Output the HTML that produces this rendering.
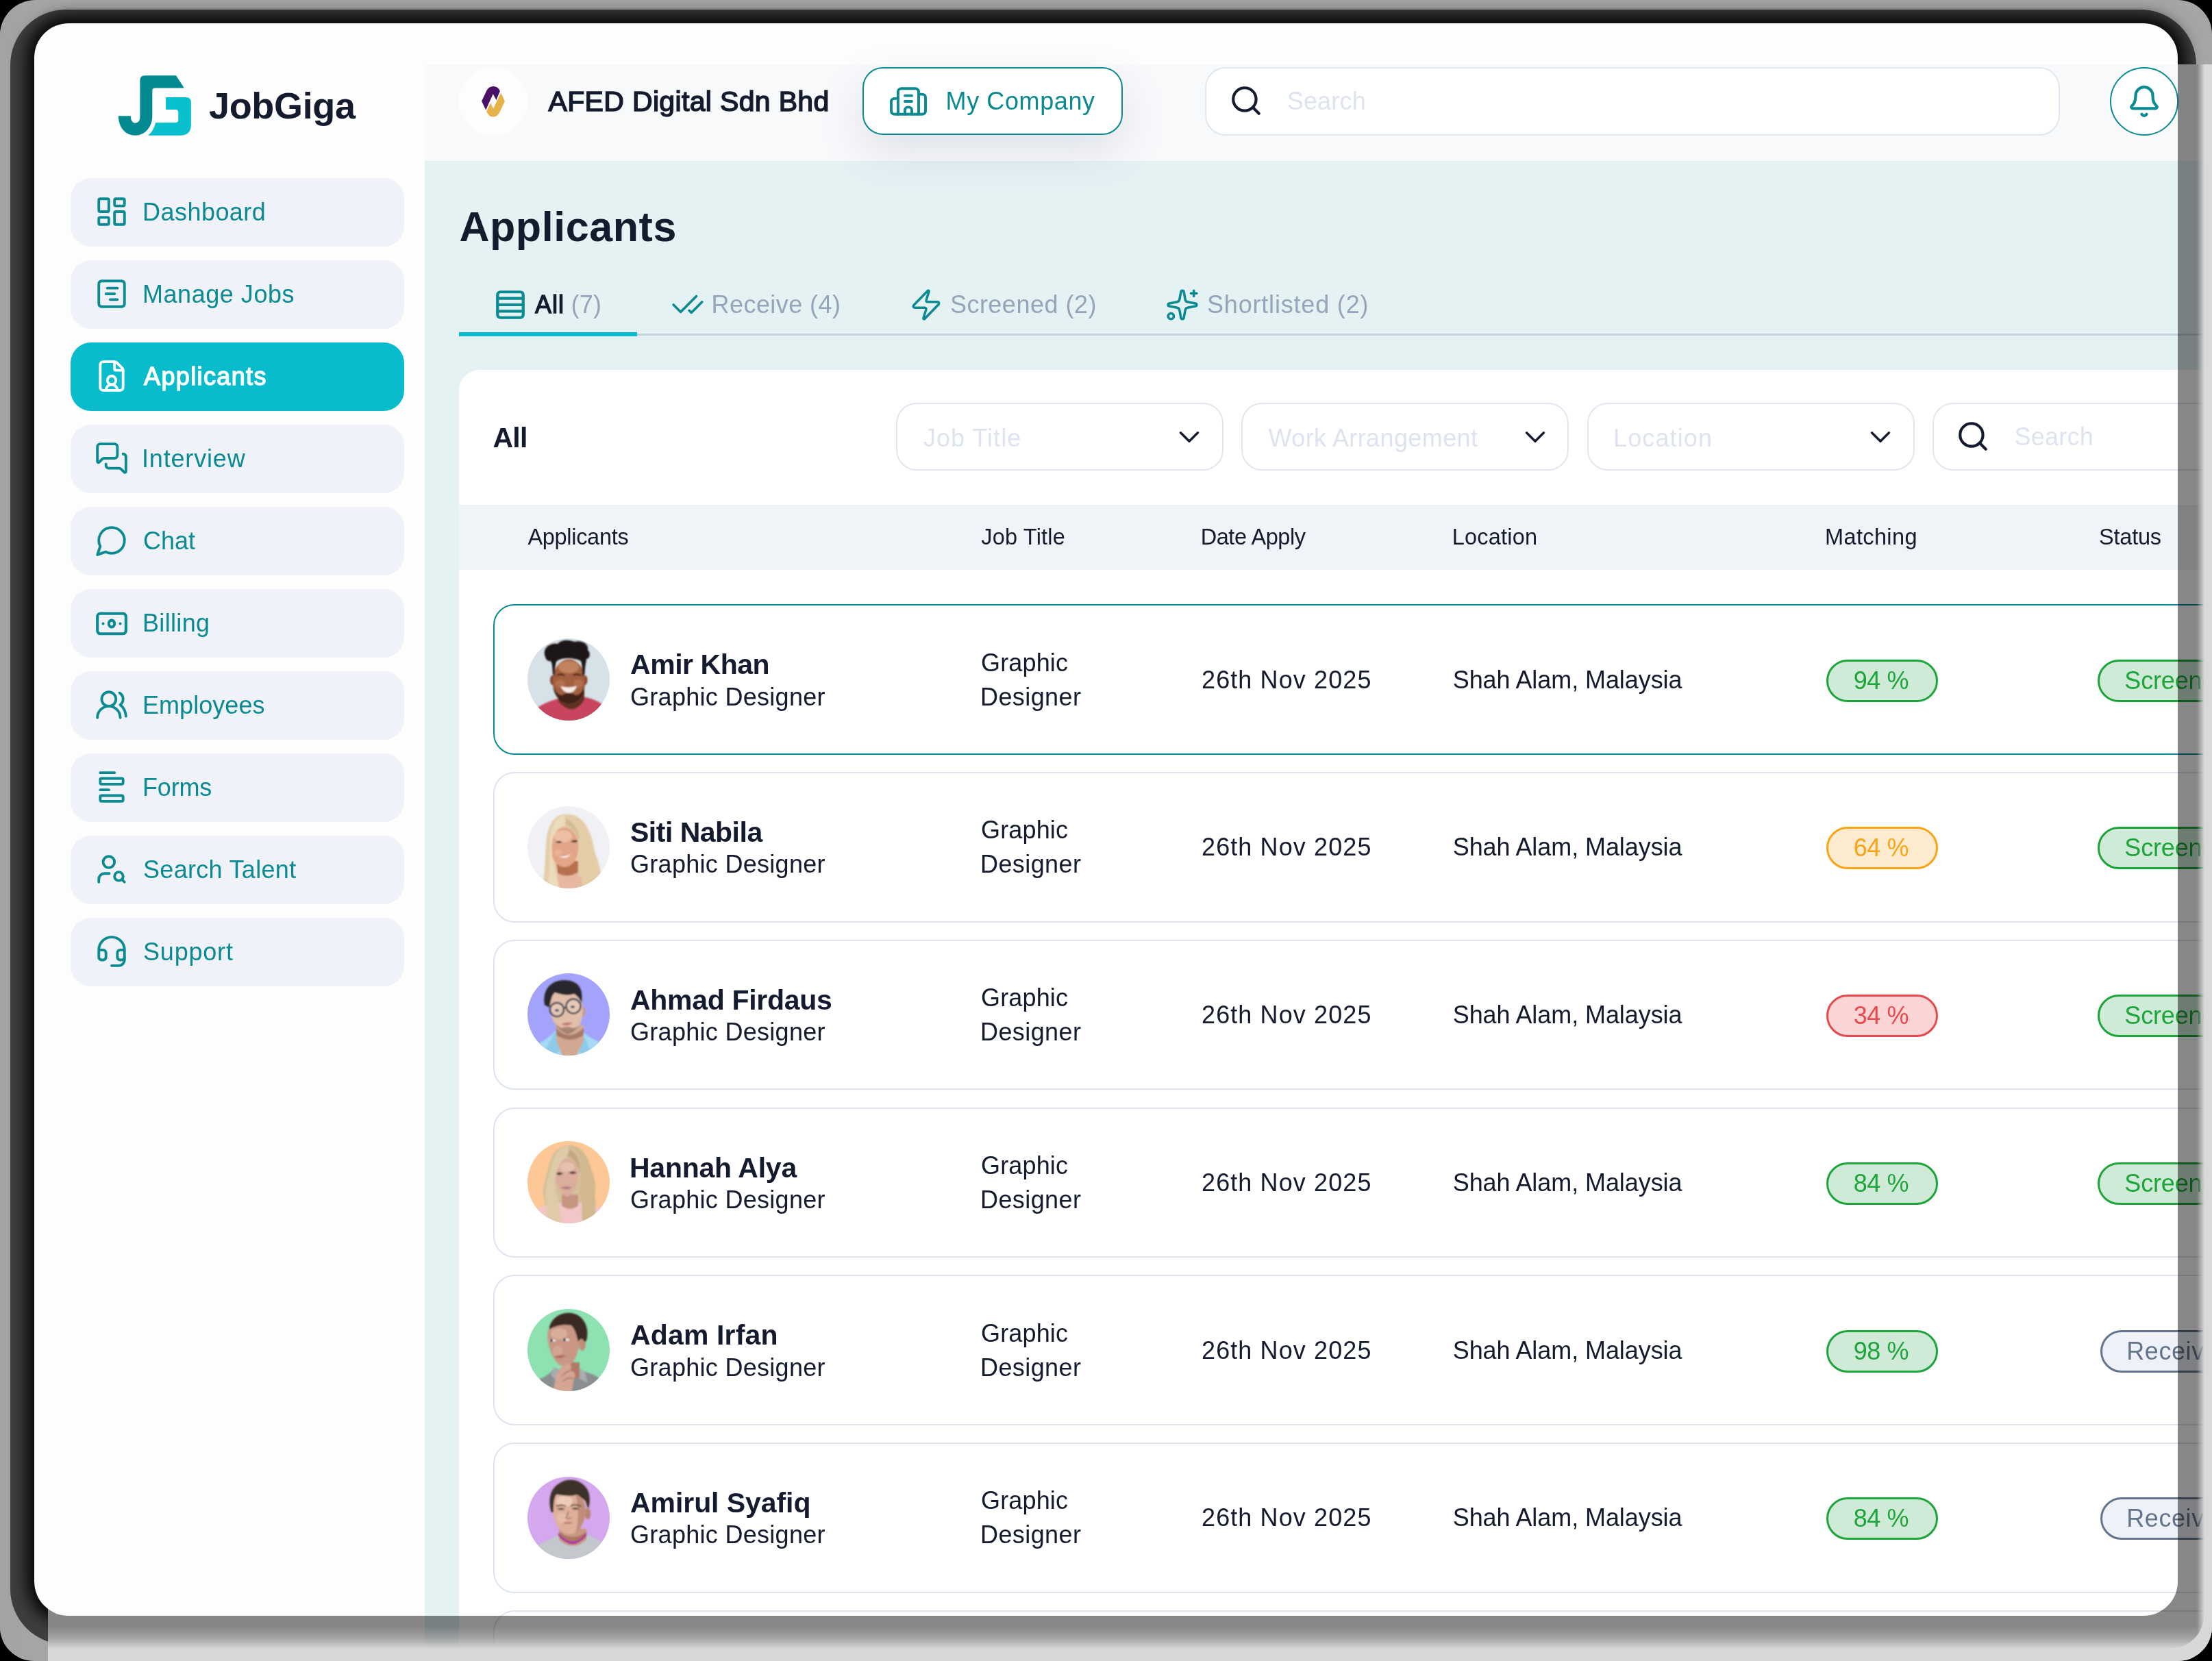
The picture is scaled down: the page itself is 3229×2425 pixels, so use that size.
<!DOCTYPE html>
<html><head><meta charset="utf-8"><title>JobGiga - Applicants</title>
<style>
html,body{margin:0;padding:0;background:#000;}
body{width:3229px;height:2425px;font-family:"Liberation Sans",sans-serif;}
#page{position:relative;width:3229px;height:2425px;overflow:hidden;background:#000;}
#outer{position:absolute;left:0;top:0;width:3229px;height:2425px;border-radius:52px 50px 50px 50px;background:#a5a5a5;overflow:hidden;}
#outer i{position:absolute;display:block;}
#shadow{position:absolute;left:50px;top:34px;width:3129px;height:2325px;border-radius:50px;background:#000;
 box-shadow:0 0 22px 11px rgba(0,0,0,.92), -4px 11px 0 31px #3e3e3e;}
.fade{position:absolute;}
#stage{position:absolute;left:0;top:0;width:3229px;height:2425px;clip-path:path('M100 34H3129A50 50 0 0 1 3179 84V2309A50 50 0 0 1 3129 2359H100A50 50 0 0 1 50 2309V84A50 50 0 0 1 100 34Z M70.01 94H3217.99A0.01 0.01 0 0 1 3218 94.01V2356A52 52 0 0 1 3166 2408H70.01A0.01 0.01 0 0 1 70 2407.99V94.01A0.01 0.01 0 0 1 70.01 94Z');background:#fdfdfd;}
#dim{position:absolute;left:50px;top:34px;width:3129px;height:2325px;border-radius:50px;box-shadow:0 0 0 2000px rgba(0,0,0,.47);}
#gl{position:absolute;left:0;top:0;width:3229px;height:2425px;will-change:transform;}
.t{position:absolute;white-space:nowrap;line-height:1;}
.ic{position:absolute;overflow:visible;}
.av{overflow:hidden;border-radius:50%;}
.nav{position:absolute;left:103px;width:486.5px;height:100px;border-radius:30px;}
.sel{position:absolute;top:588px;width:478px;height:99px;box-sizing:border-box;border:2.6px solid #e1e7f0;border-radius:30px;background:#fff;}
.row{position:absolute;left:720.3px;width:2700px;height:219.5px;box-sizing:border-box;border:2.6px solid #dde3f0;border-radius:31px;background:#fff;}
.bdg{position:absolute;height:62px;box-sizing:border-box;border:3px solid;border-radius:31px;}
</style></head><body><div id="page">
<svg width="0" height="0" style="position:absolute"><defs><filter id="avb" x="-20%" y="-20%" width="140%" height="140%"><feGaussianBlur stdDeviation="1.1"/></filter></defs></svg>
<div id="outer"><i style="left:0;top:0;width:30px;height:2425px;background:#a3a3a3"></i><i style="left:3190px;top:94px;width:39px;height:2400px;background:#d9d9d9"></i><i style="left:70px;top:2380px;width:3200px;height:45px;background:#d8d8d8"></i></div>
<div id="shadow"></div>
<div id="stage"><div id="gl">
<svg class="ic" style="left:0;top:0" width="300" height="210" viewBox="0 0 300 210"><path fill="#038a90" d="M211.4 110.3H257L268.9 128.6H226.3Q222.3 128.6 222.3 132.6V169.5C222.3 186 211 197.7 197.7 197.7C183 197.7 172.9 186 172.9 169.2H190.8C190.8 176 193.5 179.5 197.7 179.5C202 179.5 204.4 176 204.4 170V117.3Q204.4 110.3 211.4 110.3Z"/><path fill="#08bfcd" d="M242.1 141.9H271.4Q278.9 141.9 278.9 149.4V182Q278.9 197.7 263 197.7H216.3Q224 192 227.2 179.1H256.3Q260.3 179.1 260.3 175.1V164Q260.3 159.9 256.3 159.9H242.1Z"/></svg>
<span class="t" style="left:305.0px;top:126.9px;font-size:54px;color:#151b2e;font-weight:700;letter-spacing:-0.332px;">JobGiga</span>
<div class="nav" style="top:260px;background:#eff2f8"></div>
<svg class="ic" style="left:138.0px;top:284.4px;" width="50" height="50" viewBox="0 0 24 24" fill="none" stroke="#0b8a91" stroke-width="1.85" stroke-linecap="round" stroke-linejoin="round"><rect width="7" height="9" x="3" y="3" rx="1"/><rect width="7" height="5" x="14" y="3" rx="1"/><rect width="7" height="9" x="14" y="12" rx="1"/><rect width="7" height="5" x="3" y="16" rx="1"/></svg>
<span class="t" style="left:208.0px;top:291.9px;font-size:36px;color:#0b8a91;letter-spacing:0.463px;">Dashboard</span>
<div class="nav" style="top:380px;background:#eff2f8"></div>
<svg class="ic" style="left:138.0px;top:404.4px;" width="50" height="50" viewBox="0 0 24 24" fill="none" stroke="#0b8a91" stroke-width="1.85" stroke-linecap="round" stroke-linejoin="round"><rect width="18" height="18" x="3" y="3" rx="2"/><path d="M9 8h7"/><path d="M8 12h6"/><path d="M11 16h5"/></svg>
<span class="t" style="left:208.0px;top:411.9px;font-size:36px;color:#0b8a91;letter-spacing:0.536px;">Manage Jobs</span>
<div class="nav" style="top:500px;background:#09bccc"></div>
<svg class="ic" style="left:138.0px;top:524.4px;" width="50" height="50" viewBox="0 0 24 24" fill="none" stroke="#ffffff" stroke-width="1.85" stroke-linecap="round" stroke-linejoin="round"><path d="M6 22a2 2 0 0 1-2-2V4a2 2 0 0 1 2-2h8a2.4 2.4 0 0 1 1.704.706l3.588 3.588A2.4 2.4 0 0 1 20 8v12a2 2 0 0 1-2 2z"/><path d="M14 2v5a1 1 0 0 0 1 1h5"/><path d="M16 22a4 4 0 0 0-8 0"/><circle cx="12" cy="15" r="3"/></svg>
<span class="t" style="left:210.0px;top:531.9px;font-size:36px;color:#ffffff;-webkit-text-stroke:1.33px #ffffff;letter-spacing:1.367px;">Applicants</span>
<div class="nav" style="top:620px;background:#eff2f8"></div>
<svg class="ic" style="left:138.0px;top:644.4px;" width="50" height="50" viewBox="0 0 24 24" fill="none" stroke="#0b8a91" stroke-width="1.85" stroke-linecap="round" stroke-linejoin="round"><path d="M16 10a2 2 0 0 1-2 2H6.828a2 2 0 0 0-1.414.586l-2.202 2.202A.71.71 0 0 1 2 14.286V4a2 2 0 0 1 2-2h10a2 2 0 0 1 2 2z"/><path d="M20 9a2 2 0 0 1 2 2v10.286a.71.71 0 0 1-1.212.502l-2.202-2.202A2 2 0 0 0 17.172 19H10a2 2 0 0 1-2-2v-1"/></svg>
<span class="t" style="left:207.0px;top:651.9px;font-size:36px;color:#0b8a91;letter-spacing:0.831px;">Interview</span>
<div class="nav" style="top:740px;background:#eff2f8"></div>
<svg class="ic" style="left:138.0px;top:764.4px;" width="50" height="50" viewBox="0 0 24 24" fill="none" stroke="#0b8a91" stroke-width="1.85" stroke-linecap="round" stroke-linejoin="round"><path d="M7.9 20A9 9 0 1 0 4 16.1L2 22Z"/></svg>
<span class="t" style="left:209.0px;top:771.9px;font-size:36px;color:#0b8a91;letter-spacing:-0.014px;">Chat</span>
<div class="nav" style="top:860px;background:#eff2f8"></div>
<svg class="ic" style="left:138.0px;top:880.5px;" width="50" height="59" viewBox="0 0 24 24" preserveAspectRatio="none" fill="none" stroke="#0b8a91" stroke-width="4.15" stroke-linecap="round" stroke-linejoin="round"><rect vector-effect="non-scaling-stroke" width="20" height="12" x="2" y="6" rx="2"/><circle vector-effect="non-scaling-stroke" cx="12" cy="12" r="2"/><path vector-effect="non-scaling-stroke" d="M6 12h.01M18 12h.01"/></svg>
<span class="t" style="left:208.0px;top:891.9px;font-size:36px;color:#0b8a91;letter-spacing:0.329px;">Billing</span>
<div class="nav" style="top:980px;background:#eff2f8"></div>
<svg class="ic" style="left:138.0px;top:1004.4px;" width="50" height="50" viewBox="0 0 24 24" fill="none" stroke="#0b8a91" stroke-width="1.85" stroke-linecap="round" stroke-linejoin="round"><path d="M18 21a8 8 0 0 0-16 0"/><circle cx="10" cy="8" r="5"/><path d="M22 20c0-3.37-2-6.5-4-8a5 5 0 0 0-.45-8.3"/></svg>
<span class="t" style="left:208.0px;top:1011.9px;font-size:36px;color:#0b8a91;letter-spacing:0.052px;">Employees</span>
<div class="nav" style="top:1100px;background:#eff2f8"></div>
<svg class="ic" style="left:138.0px;top:1124.4px;" width="50" height="50" viewBox="0 0 24 24" fill="none" stroke="#0b8a91" stroke-width="1.85" stroke-linecap="round" stroke-linejoin="round"><path d="M4 14h6"/><path d="M4 2h10"/><rect x="4" y="18" width="16" height="4" rx="1"/><rect x="4" y="6" width="16" height="4" rx="1"/></svg>
<span class="t" style="left:208.0px;top:1131.9px;font-size:36px;color:#0b8a91;letter-spacing:-0.172px;">Forms</span>
<div class="nav" style="top:1220px;background:#eff2f8"></div>
<svg class="ic" style="left:138.0px;top:1244.4px;" width="50" height="50" viewBox="0 0 24 24" fill="none" stroke="#0b8a91" stroke-width="1.85" stroke-linecap="round" stroke-linejoin="round"><circle cx="10" cy="7" r="4"/><path d="M10.3 15H7a4 4 0 0 0-4 4v2"/><circle cx="17" cy="17" r="3"/><path d="m21 21-1.9-1.9"/></svg>
<span class="t" style="left:209.0px;top:1251.9px;font-size:36px;color:#0b8a91;letter-spacing:0.306px;">Search Talent</span>
<div class="nav" style="top:1340px;background:#eff2f8"></div>
<svg class="ic" style="left:138.0px;top:1364.4px;" width="50" height="50" viewBox="0 0 24 24" fill="none" stroke="#0b8a91" stroke-width="1.85" stroke-linecap="round" stroke-linejoin="round"><path d="M3 11h3a2 2 0 0 1 2 2v3a2 2 0 0 1-2 2H5a2 2 0 0 1-2-2v-5Zm0 0a9 9 0 1 1 18 0m0 0v5a2 2 0 0 1-2 2h-1a2 2 0 0 1-2-2v-3a2 2 0 0 1 2-2h3Z"/><path d="M21 16v2a4 4 0 0 1-4 4h-5"/></svg>
<span class="t" style="left:209.0px;top:1371.9px;font-size:36px;color:#0b8a91;letter-spacing:0.802px;">Support</span>
<div style="position:absolute;left:620px;top:94px;width:2700px;height:141px;background:#f8f9fb"></div>
<div style="position:absolute;left:620px;top:235px;width:2700px;height:2300px;background:#e4f2f4"></div>
<div style="position:absolute;left:670px;top:98px;width:100px;height:100px;border-radius:50%;background:#fdfdfe"></div>
<svg class="ic" style="left:690px;top:115px" width="60" height="65" viewBox="690 115 60 65"><path fill="#4a1068" d="M703.1 147.7L710.4 132.2Q714 126 720.1 126Q727 126 729.9 133L724.4 145.9L719.7 137.3L709.2 160.6Z"/><path fill="#e6b34a" d="M731.1 135.4L737 147.7L729.5 163.5Q726 170.6 720.1 170.6Q713.5 170.6 710.2 162.7L716 150.2L720.1 158.4Z"/></svg>
<span class="t" style="left:800.5px;top:128.1px;font-size:41px;color:#151b2e;-webkit-text-stroke:1.52px #151b2e;letter-spacing:0.339px;">AFED Digital Sdn Bhd</span>
<div style="position:absolute;left:1259px;top:98px;width:380px;height:99px;box-sizing:border-box;border:2.8px solid #0b8a91;border-radius:30px;background:#fff;box-shadow:0 25px 62px rgba(100,110,150,.16)"></div>
<svg class="ic" style="left:1296.4px;top:122.7px;" width="60" height="50" viewBox="0 0 24 24" preserveAspectRatio="none" fill="none" stroke="#0b8a91" stroke-width="3.9" stroke-linecap="round" stroke-linejoin="round"><path vector-effect="non-scaling-stroke" d="M10 12h4"/><path vector-effect="non-scaling-stroke" d="M10 8h4"/><path vector-effect="non-scaling-stroke" d="M14 21v-3a2 2 0 0 0-4 0v3"/><path vector-effect="non-scaling-stroke" d="M6 10H4a2 2 0 0 0-2 2v7a2 2 0 0 0 2 2h16a2 2 0 0 0 2-2V9a2 2 0 0 0-2-2h-2"/><path vector-effect="non-scaling-stroke" d="M6 21V5a2 2 0 0 1 2-2h8a2 2 0 0 1 2 2v16"/></svg>
<span class="t" style="left:1380.6px;top:130.2px;font-size:36px;color:#0b8a91;letter-spacing:0.593px;">My Company</span>
<div style="position:absolute;left:1759px;top:98px;width:1248px;height:100px;box-sizing:border-box;border:2.6px solid #e1e7f0;border-radius:30px;background:#fff"></div>
<svg class="ic" style="left:1793.6px;top:122.2px;" width="50" height="50" viewBox="0 0 24 24" fill="none" stroke="#151b2e" stroke-width="2" stroke-linecap="round" stroke-linejoin="round"><circle cx="11" cy="11" r="8"/><path d="m21 21-4.3-4.3"/></svg>
<span class="t" style="left:1878.7px;top:130.2px;font-size:36px;color:#dde4ef;letter-spacing:0.191px;">Search</span>
<div style="position:absolute;left:3080px;top:98px;width:100px;height:100px;box-sizing:border-box;border:2.8px solid #0b8a91;border-radius:50%;background:#fff"></div>
<svg class="ic" style="left:3105.0px;top:122.5px;" width="50" height="50" viewBox="0 0 24 24" fill="none" stroke="#0b8a91" stroke-width="2" stroke-linecap="round" stroke-linejoin="round"><path d="M10.268 21a2 2 0 0 0 3.464 0"/><path d="M3.262 15.326A1 1 0 0 0 4 17h16a1 1 0 0 0 .74-1.673C19.41 13.956 18 12.499 18 8A6 6 0 0 0 6 8c0 4.499-1.411 5.956-2.738 7.326"/></svg>
<span class="t" style="left:670.4px;top:301.1px;font-size:61px;color:#151b2e;font-weight:700;letter-spacing:0.567px;">Applicants</span>
<div style="position:absolute;left:670px;top:487px;width:2700px;height:3px;background:#c6d2de"></div>
<div style="position:absolute;left:670px;top:484.5px;width:260px;height:6px;background:#07bccc"></div>
<svg class="ic" style="left:720.0px;top:420.0px;" width="50" height="50" viewBox="0 0 24 24" fill="none" stroke="#0b8a91" stroke-width="2" stroke-linecap="round" stroke-linejoin="round"><rect width="18" height="18" x="3" y="3" rx="2"/><path d="M21 7.5H3"/><path d="M21 12H3"/><path d="M21 16.5H3"/></svg>
<span class="t" style="left:781.0px;top:427.3px;font-size:36px;color:#151b2e;-webkit-text-stroke:1.33px #151b2e;letter-spacing:0.995px;">All</span>
<span class="t" style="left:833.5px;top:427.3px;font-size:36px;color:#96a4ba;letter-spacing:0.245px;">(7)</span>
<svg class="ic" style="left:979.0px;top:420.0px;" width="50" height="50" viewBox="0 0 24 24" fill="none" stroke="#0b8a91" stroke-width="1.7" stroke-linecap="round" stroke-linejoin="round"><path d="M18 6 7 17l-5-5"/><path d="m22 10-7.5 7.5L13 16"/></svg>
<span class="t" style="left:1038.6px;top:427.3px;font-size:36px;color:#96a4ba;letter-spacing:0.433px;">Receive (4)</span>
<svg class="ic" style="left:1326.5px;top:420.0px;" width="50" height="50" viewBox="0 0 24 24" fill="none" stroke="#0b8a91" stroke-width="1.7" stroke-linecap="round" stroke-linejoin="round"><path d="M4 14a1 1 0 0 1-.78-1.63l9.9-10.2a.5.5 0 0 1 .86.46l-1.92 6.02A1 1 0 0 0 13 10h7a1 1 0 0 1 .78 1.63l-9.9 10.2a.5.5 0 0 1-.86-.46l1.92-6.02A1 1 0 0 0 11 14z"/></svg>
<span class="t" style="left:1386.9px;top:427.3px;font-size:36px;color:#96a4ba;letter-spacing:0.489px;">Screened (2)</span>
<svg class="ic" style="left:1701.0px;top:420.0px;" width="50" height="50" viewBox="0 0 24 24" fill="none" stroke="#0b8a91" stroke-width="1.7" stroke-linecap="round" stroke-linejoin="round"><path d="M11.017 2.814a1 1 0 0 1 1.966 0l1.051 5.558a2 2 0 0 0 1.594 1.594l5.558 1.051a1 1 0 0 1 0 1.966l-5.558 1.051a2 2 0 0 0-1.594 1.594l-1.051 5.558a1 1 0 0 1-1.966 0l-1.051-5.558a2 2 0 0 0-1.594-1.594l-5.558-1.051a1 1 0 0 1 0-1.966l5.558-1.051a2 2 0 0 0 1.594-1.594z"/><path d="M20 2v4"/><path d="M22 4h-4"/><circle cx="4" cy="20" r="2"/></svg>
<span class="t" style="left:1762.0px;top:427.3px;font-size:36px;color:#96a4ba;letter-spacing:0.814px;">Shortlisted (2)</span>
<div style="position:absolute;left:670px;top:540px;width:2700px;height:2000px;border-radius:30px 0 0 0;background:#fff"></div>
<span class="t" style="left:719.5px;top:619.0px;font-size:41px;color:#151b2e;font-weight:700;letter-spacing:-0.750px;">All</span>
<div class="sel" style="left:1307.5px"></div>
<span class="t" style="left:1348.0px;top:621.5px;font-size:36px;color:#dde4ef;letter-spacing:1.013px;">Job Title</span>
<svg class="ic" style="left:1711.0px;top:612.5px;" width="50" height="50" viewBox="0 0 24 24" fill="none" stroke="#151b2e" stroke-width="1.65" stroke-linecap="round" stroke-linejoin="round"><path d="m6 9 6 6 6-6"/></svg>
<div class="sel" style="left:1812.2px"></div>
<span class="t" style="left:1851.6px;top:621.5px;font-size:36px;color:#dde4ef;letter-spacing:0.397px;">Work Arrangement</span>
<svg class="ic" style="left:2215.7px;top:612.5px;" width="50" height="50" viewBox="0 0 24 24" fill="none" stroke="#151b2e" stroke-width="1.65" stroke-linecap="round" stroke-linejoin="round"><path d="m6 9 6 6 6-6"/></svg>
<div class="sel" style="left:2316.6px"></div>
<span class="t" style="left:2355.0px;top:621.5px;font-size:36px;color:#dde4ef;letter-spacing:1.131px;">Location</span>
<svg class="ic" style="left:2720.1px;top:612.5px;" width="50" height="50" viewBox="0 0 24 24" fill="none" stroke="#151b2e" stroke-width="1.65" stroke-linecap="round" stroke-linejoin="round"><path d="m6 9 6 6 6-6"/></svg>
<div class="sel" style="left:2821px;width:520px"></div>
<svg class="ic" style="left:2855.0px;top:612.0px;" width="50" height="50" viewBox="0 0 24 24" fill="none" stroke="#151b2e" stroke-width="2" stroke-linecap="round" stroke-linejoin="round"><circle cx="11" cy="11" r="8"/><path d="m21 21-4.3-4.3"/></svg>
<span class="t" style="left:2940.5px;top:620.0px;font-size:36px;color:#dde4ef;letter-spacing:0.251px;">Search</span>
<div style="position:absolute;left:670px;top:737px;width:2700px;height:95px;background:#f0f3f8"></div>
<span class="t" style="left:770.4px;top:768.3px;font-size:32.5px;color:#151b2e;letter-spacing:-0.300px;">Applicants</span>
<span class="t" style="left:1432.3px;top:768.3px;font-size:32.5px;color:#151b2e;letter-spacing:0.182px;">Job Title</span>
<span class="t" style="left:1752.7px;top:768.3px;font-size:32.5px;color:#151b2e;letter-spacing:-0.436px;">Date Apply</span>
<span class="t" style="left:2119.8px;top:768.3px;font-size:32.5px;color:#151b2e;letter-spacing:0.200px;">Location</span>
<span class="t" style="left:2664.0px;top:768.3px;font-size:32.5px;color:#151b2e;letter-spacing:0.372px;">Matching</span>
<span class="t" style="left:3064.0px;top:768.3px;font-size:32.5px;color:#151b2e;letter-spacing:-0.217px;">Status</span>
<div class="row" style="top:882.45px;border-color:#0b8a91"></div>
<svg class="ic av" style="left:770px;top:931.8px" width="120" height="120" viewBox="0 0 120 120"><rect x="-20" y="-20" width="160" height="160" fill="#d7e1e8"/>
<g filter="url(#avb)">
<path d="M8 106C22 94 38 90 50 86H86C96 89 105 92 112 99L124 124H-4Z" fill="#c7455f"/>
<path d="M45 76H83V90Q66 116 45 92Z" fill="#5e3323"/>
<ellipse cx="36.5" cy="61" rx="3.5" ry="7" fill="#7f4530"/><ellipse cx="84" cy="61" rx="3.5" ry="7" fill="#7f4530"/>
<ellipse cx="60.5" cy="62" rx="23.5" ry="31.5" fill="#a35f3f"/>
<ellipse cx="60" cy="42" rx="15" ry="9" fill="#c98d69" opacity=".75"/>
<ellipse cx="48" cy="66" rx="7" ry="6" fill="#bf7c58" opacity=".6"/><ellipse cx="74" cy="66" rx="7" ry="6" fill="#bf7c58" opacity=".6"/>
<path d="M37 66Q38 92 60.500 95Q83 92 84 66Q80 82 71 83Q60 76 50 83Q41 82 37 66Z" fill="#2c1611" opacity=".82"/>
<path d="M48.500 70Q60.500 73 72 69.500Q69 79 60.500 79.500Q52 79 48.500 70Z" fill="#f6ecea"/>
<path d="M43 54Q49 51 54 54M67 54Q72 51 78 54" stroke="#2a1511" stroke-width="2" fill="none"/>
<path d="M26 27C21 14 33 6 44 8C50 1 62 2 68 5C79 2 90 8 88 17C93 21 91 30 86 30C86 34 84 38 83.500 52L80 56C80 46 80 38 78 33C72 30 66 29 60 29C52 29 46 30 42 34C40 40 40 48 40 56L37 52C36.500 42 36 36 34 33C30 34 27 31 26 27Z" fill="#1f1618"/>
</g></svg>
<span class="t" style="left:920.0px;top:950.3px;font-size:41px;color:#151b2e;font-weight:700;letter-spacing:-0.457px;">Amir Khan</span>
<span class="t" style="left:920.0px;top:999.5px;font-size:36px;color:#151b2e;letter-spacing:0.291px;">Graphic Designer</span>
<span class="t" style="left:1432.0px;top:949.5px;font-size:36px;color:#151b2e;letter-spacing:0.158px;">Graphic</span>
<span class="t" style="left:1431.0px;top:999.5px;font-size:36px;color:#151b2e;letter-spacing:0.417px;">Designer</span>
<span class="t" style="left:1754.0px;top:974.5px;font-size:36px;color:#151b2e;letter-spacing:1.104px;">26th Nov 2025</span>
<span class="t" style="left:2120.7px;top:974.5px;font-size:36px;color:#151b2e;letter-spacing:-0.074px;">Shah Alam, Malaysia</span>
<div class="bdg" style="left:2665.6px;top:962.5px;width:163.5px;border-color:#1da53b;background:#cfead6"></div>
<span class="t" style="left:2705.8px;top:975.5px;font-size:36px;color:#1da53b;letter-spacing:-0.448px;">94 %</span>
<div class="bdg" style="left:3061.6px;top:962.5px;width:230px;border-color:#1da53b;background:#cfead6"></div>
<span class="t" style="left:3101.3px;top:975.5px;font-size:36px;color:#1da53b;letter-spacing:-0.155px;">Screened</span>
<div class="row" style="top:1127.20px;border-color:#dde3f0"></div>
<svg class="ic av" style="left:770px;top:1176.5px" width="120" height="120" viewBox="0 0 120 120"><rect x="-20" y="-20" width="160" height="160" fill="#f0f1f5"/>
<g filter="url(#avb)">
<path d="M54 12C40 12 31 26 28 46C25 70 27 96 20 124H112C108 100 106 86 98 66C94 40 84 14 62 12Z" fill="#e4ceaa"/>
<path d="M44 84H74V102Q92 108 98 124H26Q34 108 44 104Z" fill="#e6b8a0"/>
<path d="M42 80H74V96Q60 106 44 98Z" fill="#b8714f"/>
<ellipse cx="54" cy="60" rx="20.500" ry="29" fill="#e2a587"/>
<ellipse cx="52" cy="44" rx="13" ry="9" fill="#f0c6ad" opacity=".8"/>
<ellipse cx="45" cy="68" rx="6" ry="5" fill="#eeb79d" opacity=".7"/>
<path d="M54 13C42 15 34 30 33 50C32 72 34 98 28 124H47C44 102 35 82 35.500 60C36 44 42 32 55 27Z" fill="#eddcbc"/>
<path d="M54 13C68 14 78 26 78 44C80 70 76 98 82 124H108C102 96 98 80 93 60C89 36 79 14 60 12Z" fill="#e3cca6"/>
<path d="M55 27C64 30 72 38 75 52C77 42 72 24 56 18Z" fill="#d6bb92"/>
<path d="M41 52.500Q46 49 51 52.500Q46 55 41 52.500ZM63 51.500Q69 48 74 51Q69 54.500 63 51.500Z" fill="#4b3229"/>
<path d="M42 71Q52 75.500 63.500 69.500Q56 80 42 71Z" fill="#fbf3f0"/>
<path d="M42 71Q52 75.500 63.500 69.500Q54 73 42 71Z" fill="#c47a78"/>
</g></svg>
<span class="t" style="left:920.0px;top:1195.1px;font-size:41px;color:#151b2e;font-weight:700;letter-spacing:-0.501px;">Siti Nabila</span>
<span class="t" style="left:920.0px;top:1244.2px;font-size:36px;color:#151b2e;letter-spacing:0.291px;">Graphic Designer</span>
<span class="t" style="left:1432.0px;top:1194.2px;font-size:36px;color:#151b2e;letter-spacing:0.158px;">Graphic</span>
<span class="t" style="left:1431.0px;top:1244.2px;font-size:36px;color:#151b2e;letter-spacing:0.417px;">Designer</span>
<span class="t" style="left:1754.0px;top:1219.2px;font-size:36px;color:#151b2e;letter-spacing:1.104px;">26th Nov 2025</span>
<span class="t" style="left:2120.7px;top:1219.2px;font-size:36px;color:#151b2e;letter-spacing:-0.074px;">Shah Alam, Malaysia</span>
<div class="bdg" style="left:2665.6px;top:1207.2px;width:163.5px;border-color:#f7a416;background:#fdebcf"></div>
<span class="t" style="left:2705.8px;top:1220.2px;font-size:36px;color:#f7a416;letter-spacing:-0.448px;">64 %</span>
<div class="bdg" style="left:3061.6px;top:1207.2px;width:230px;border-color:#1da53b;background:#cfead6"></div>
<span class="t" style="left:3101.3px;top:1220.2px;font-size:36px;color:#1da53b;letter-spacing:-0.155px;">Screened</span>
<div class="row" style="top:1371.95px;border-color:#dde3f0"></div>
<svg class="ic av" style="left:770px;top:1421.2px" width="120" height="120" viewBox="0 0 120 120"><rect x="-20" y="-20" width="160" height="160" fill="#a4a3fc"/>
<g filter="url(#avb)">
<path d="M10 108C22 98 34 94 40 84L60 96L80 84C88 94 98 96 110 104L124 124H-4Z" fill="#a6dcf3"/>
<path d="M41 84L50 110L36 124H20ZM80 84L72 110L84 124H96Z" fill="#8ccbea"/>
<path d="M42 76H82V98L70 124H52L42 98Z" fill="#d3a892"/>
<path d="M42 80Q60 100 82 80V90Q62 104 42 90Z" fill="#a67a66"/>
<ellipse cx="81" cy="56" rx="3.500" ry="7" fill="#c99b86"/>
<path d="M31 44C30 26 44 18 58 18C72 18 80 28 80 44C81 60 80 70 74 80C68 88 62 90 58 89C50 88 42 80 38 70C34 62 32 54 31 44Z" fill="#e2bfab"/>
<path d="M40 72Q44 84 58 89Q70 88 78 72Q74 80 66 80Q58 76 50 80Q44 78 40 72Z" fill="#8e6a5b" opacity=".7"/>
<path d="M49 74Q58 70 66 73Q58 79 49 74Z" fill="#c9786c"/>
<path d="M25 46C22 28 30 16 42 12C54 8 70 10 76 20C80 26 80 36 79 44C77 38 72 32 68 30C58 34 46 30 40 28C34 34 34 42 32 50Z" fill="#2b282f"/>
<circle cx="43" cy="53" r="10" fill="#efd9cc" fill-opacity=".35" stroke="#39414f" stroke-width="2.400"/>
<circle cx="67" cy="48" r="10.500" fill="#efd9cc" fill-opacity=".35" stroke="#39414f" stroke-width="2.400"/>
<path d="M53 51L56.500 49.500" stroke="#39414f" stroke-width="2.400"/>
<ellipse cx="43" cy="54" rx="3" ry="1.800" fill="#3b4a5c"/><ellipse cx="66" cy="49" rx="3" ry="1.800" fill="#3b4a5c"/>
</g></svg>
<span class="t" style="left:920.0px;top:1439.8px;font-size:41px;color:#151b2e;font-weight:700;letter-spacing:-0.302px;">Ahmad Firdaus</span>
<span class="t" style="left:920.0px;top:1489.0px;font-size:36px;color:#151b2e;letter-spacing:0.291px;">Graphic Designer</span>
<span class="t" style="left:1432.0px;top:1439.0px;font-size:36px;color:#151b2e;letter-spacing:0.158px;">Graphic</span>
<span class="t" style="left:1431.0px;top:1489.0px;font-size:36px;color:#151b2e;letter-spacing:0.417px;">Designer</span>
<span class="t" style="left:1754.0px;top:1464.0px;font-size:36px;color:#151b2e;letter-spacing:1.104px;">26th Nov 2025</span>
<span class="t" style="left:2120.7px;top:1464.0px;font-size:36px;color:#151b2e;letter-spacing:-0.074px;">Shah Alam, Malaysia</span>
<div class="bdg" style="left:2665.6px;top:1452.0px;width:163.5px;border-color:#e5484d;background:#fbd5d6"></div>
<span class="t" style="left:2705.8px;top:1465.0px;font-size:36px;color:#e5484d;letter-spacing:-0.448px;">34 %</span>
<div class="bdg" style="left:3061.6px;top:1452.0px;width:230px;border-color:#1da53b;background:#cfead6"></div>
<span class="t" style="left:3101.3px;top:1465.0px;font-size:36px;color:#1da53b;letter-spacing:-0.155px;">Screened</span>
<div class="row" style="top:1616.70px;border-color:#dde3f0"></div>
<svg class="ic av" style="left:770px;top:1666.0px" width="120" height="120" viewBox="0 0 120 120"><rect x="-20" y="-20" width="160" height="160" fill="#fdc896"/>
<g filter="url(#avb)">
<path d="M60 6C44 6 34 20 30 40C26 58 20 70 24 84C28 100 22 112 26 124H100C96 110 102 96 98 80C102 62 94 44 90 32C84 14 74 6 60 6Z" fill="#d6bf9b"/>
<path d="M10 100Q30 92 44 90H78Q94 92 108 98L124 124H-4Z" fill="#f2c5c7"/>
<path d="M50 78H74V94Q62 104 50 94Z" fill="#c59582"/>
<path d="M41 48C41 34 50 26 58 26C68 26 74 34 74 48C74 62 70 74 58 81.500C48 76 41 64 41 48Z" fill="#dbad9b"/>
<ellipse cx="58" cy="38" rx="11" ry="7" fill="#ecc7b6" opacity=".7"/>
<path d="M41.500 47Q46 44 52 47Q46 52 41.500 47ZM60 46Q66 42.500 72 46Q66 50 60 46Z" fill="#4a3a36"/>
<path d="M48.500 68Q57 65 65 67.500Q57 73 48.500 68Z" fill="#b27c80"/>
<path d="M60 7C48 8 38 20 34 40C30 58 24 70 27 84C30 100 26 112 32 124H52C44 106 48 90 42 76C38 60 40 36 58 22Z" fill="#e0cba8"/>
<path d="M60 7C72 10 78 24 78 40C80 58 74 72 78 86C82 100 76 112 84 124H100C96 110 102 96 98 80C102 62 94 44 90 32C84 14 74 6 60 6Z" fill="#d2b88f"/>
<path d="M58 22C66 24 74 32 76 48C78 38 76 20 62 12Z" fill="#c4a880"/>
</g></svg>
<span class="t" style="left:919.0px;top:1684.6px;font-size:41px;color:#151b2e;font-weight:700;letter-spacing:-0.264px;">Hannah Alya</span>
<span class="t" style="left:920.0px;top:1733.7px;font-size:36px;color:#151b2e;letter-spacing:0.291px;">Graphic Designer</span>
<span class="t" style="left:1432.0px;top:1683.7px;font-size:36px;color:#151b2e;letter-spacing:0.158px;">Graphic</span>
<span class="t" style="left:1431.0px;top:1733.7px;font-size:36px;color:#151b2e;letter-spacing:0.417px;">Designer</span>
<span class="t" style="left:1754.0px;top:1708.7px;font-size:36px;color:#151b2e;letter-spacing:1.104px;">26th Nov 2025</span>
<span class="t" style="left:2120.7px;top:1708.7px;font-size:36px;color:#151b2e;letter-spacing:-0.074px;">Shah Alam, Malaysia</span>
<div class="bdg" style="left:2665.6px;top:1696.7px;width:163.5px;border-color:#1da53b;background:#cfead6"></div>
<span class="t" style="left:2705.8px;top:1709.7px;font-size:36px;color:#1da53b;letter-spacing:-0.448px;">84 %</span>
<div class="bdg" style="left:3061.6px;top:1696.7px;width:230px;border-color:#1da53b;background:#cfead6"></div>
<span class="t" style="left:3101.3px;top:1709.7px;font-size:36px;color:#1da53b;letter-spacing:-0.155px;">Screened</span>
<div class="row" style="top:1861.45px;border-color:#dde3f0"></div>
<svg class="ic av" style="left:770px;top:1910.8px" width="120" height="120" viewBox="0 0 120 120"><rect x="-20" y="-20" width="160" height="160" fill="#8ee2b2"/>
<g filter="url(#avb)">
<path d="M8 108C22 100 34 96 40 85L60 100L76 90C88 92 98 96 110 104L124 124H-4Z" fill="#8b8e91"/>
<path d="M76 86L84 92L88 108L72 100ZM40 85L50 96L44 108L34 96Z" fill="#a9acb0"/>
<path d="M60 78H76V100L62 104Z" fill="#b07a66"/>
<ellipse cx="80" cy="52" rx="5" ry="9" fill="#c08c78"/>
<path d="M29 40C29 26 38 16 52 16C66 16 76 26 76 42C76 58 72 72 64 80C60 84 52 85 48 82C38 76 30 58 29 40Z" fill="#c99784"/>
<ellipse cx="46" cy="36" rx="12" ry="8" fill="#e0b9a7" opacity=".7"/>
<ellipse cx="44" cy="62" rx="7" ry="9" fill="#dbb09c" opacity=".6"/>
<path d="M31 46Q36 42 42 46Q36 50 31 46ZM50 45Q56 41 62 45Q56 49 50 45Z" fill="#f2f2f2"/>
<circle cx="35" cy="46" r="2.200" fill="#2c3a48"/><circle cx="54" cy="45" r="2.200" fill="#2c3a48"/>
<path d="M38 70Q46 66 56 68Q48 75 38 70Z" fill="#b26e62"/>
<path d="M32 26C36 12 50 4 64 6C80 8 90 24 87 42C86 48 84 50 82 46C80 42 76 44 74 48C72 40 70 30 64 24C54 22 40 24 32 30Z" fill="#3a2b24"/>
<path d="M36 124L42 100C44 90 50 82 58 80C64 80 66 84 62 90C68 90 72 96 68 102L64 124Z" fill="#d4a592"/>
<path d="M50 98Q56 92 62 90M52 106Q60 98 68 102" stroke="#a97b69" stroke-width="1.600" fill="none"/>
</g></svg>
<span class="t" style="left:920.0px;top:1929.3px;font-size:41px;color:#151b2e;font-weight:700;letter-spacing:0.144px;">Adam Irfan</span>
<span class="t" style="left:920.0px;top:1978.5px;font-size:36px;color:#151b2e;letter-spacing:0.291px;">Graphic Designer</span>
<span class="t" style="left:1432.0px;top:1928.5px;font-size:36px;color:#151b2e;letter-spacing:0.158px;">Graphic</span>
<span class="t" style="left:1431.0px;top:1978.5px;font-size:36px;color:#151b2e;letter-spacing:0.417px;">Designer</span>
<span class="t" style="left:1754.0px;top:1953.5px;font-size:36px;color:#151b2e;letter-spacing:1.104px;">26th Nov 2025</span>
<span class="t" style="left:2120.7px;top:1953.5px;font-size:36px;color:#151b2e;letter-spacing:-0.074px;">Shah Alam, Malaysia</span>
<div class="bdg" style="left:2665.6px;top:1941.5px;width:163.5px;border-color:#1da53b;background:#cfead6"></div>
<span class="t" style="left:2705.8px;top:1954.5px;font-size:36px;color:#1da53b;letter-spacing:-0.448px;">98 %</span>
<div class="bdg" style="left:3065.6px;top:1941.5px;width:230px;border-color:#64748b;background:#eef2f8"></div>
<span class="t" style="left:3104.3px;top:1954.5px;font-size:36px;color:#64748b;letter-spacing:0.563px;">Received</span>
<div class="row" style="top:2106.20px;border-color:#dde3f0"></div>
<svg class="ic av" style="left:770px;top:2155.5px" width="120" height="120" viewBox="0 0 120 120"><rect x="-20" y="-20" width="160" height="160" fill="#d4a7ee"/>
<g filter="url(#avb)">
<path d="M6 106C20 96 34 92 44 85Q66 112 87 84.500C96 88 104 92 112 98L124 124H-4Z" fill="#c2c8cb"/>
<path d="M46 76H86V92Q66 110 46 92Z" fill="#c99882"/>
<path d="M46 80Q66 96 86 80V88Q66 104 46 88Z" fill="#9c6a58" opacity=".7"/>
<path d="M44 85Q66 112 87 84.500L85 83Q66 106 46 83Z" fill="#b0309c"/>
<ellipse cx="88" cy="54" rx="4" ry="8.500" fill="#b98570"/>
<path d="M37 44C37 28 46 20 60 20C76 20 85 30 85 46C85 62 80 74 72 80C66 85 58 85 52 81C44 76 37 62 37 44Z" fill="#ddb09a"/>
<path d="M70 24C80 30 85 40 85 50C84 64 78 76 70 82C74 70 76 50 70 24Z" fill="#a5715e" opacity=".55"/>
<ellipse cx="54" cy="36" rx="12" ry="8" fill="#f1d3c3" opacity=".75"/>
<ellipse cx="50" cy="60" rx="7" ry="8" fill="#ecc4b2" opacity=".6"/>
<path d="M43 47Q49 44 55 47Q49 50 43 47ZM64 46.500Q70 43.500 76 46.500Q70 50 64 46.500Z" fill="#5b463c"/>
<path d="M42 43Q49 40 56 43M63 42.500Q70 39.500 78 43" stroke="#4a3a32" stroke-width="1.800" fill="none"/>
<path d="M51 67Q59 64.500 67 67Q59 71.500 51 67Z" fill="#c27f74"/>
<path d="M60 50Q58 58 56 60Q60 62 64 60" stroke="#a77562" stroke-width="1.500" fill="none"/>
<path d="M35 52C30 36 32 18 46 10C56 2 74 2 84 14C92 22 92 36 89 46C87 44 86 40 85 36C80 32 76 28 72 26C62 30 48 26 42 26C38 32 38 42 38 52Z" fill="#3d312c"/>
</g></svg>
<span class="t" style="left:920.0px;top:2174.1px;font-size:41px;color:#151b2e;font-weight:700;letter-spacing:-0.069px;">Amirul Syafiq</span>
<span class="t" style="left:920.0px;top:2223.2px;font-size:36px;color:#151b2e;letter-spacing:0.291px;">Graphic Designer</span>
<span class="t" style="left:1432.0px;top:2173.2px;font-size:36px;color:#151b2e;letter-spacing:0.158px;">Graphic</span>
<span class="t" style="left:1431.0px;top:2223.2px;font-size:36px;color:#151b2e;letter-spacing:0.417px;">Designer</span>
<span class="t" style="left:1754.0px;top:2198.2px;font-size:36px;color:#151b2e;letter-spacing:1.104px;">26th Nov 2025</span>
<span class="t" style="left:2120.7px;top:2198.2px;font-size:36px;color:#151b2e;letter-spacing:-0.074px;">Shah Alam, Malaysia</span>
<div class="bdg" style="left:2665.6px;top:2186.2px;width:163.5px;border-color:#1da53b;background:#cfead6"></div>
<span class="t" style="left:2705.8px;top:2199.2px;font-size:36px;color:#1da53b;letter-spacing:-0.448px;">84 %</span>
<div class="bdg" style="left:3065.6px;top:2186.2px;width:230px;border-color:#64748b;background:#eef2f8"></div>
<span class="t" style="left:3104.3px;top:2199.2px;font-size:36px;color:#64748b;letter-spacing:0.563px;">Received</span>
<div class="row" style="top:2350.95px;border-color:#dde3f0"></div>
</div>
<div id="dim"></div>
<div class="fade" style="left:3207px;top:94px;width:11px;height:2314px;background:linear-gradient(90deg,rgba(217,217,217,0),#d9d9d9)"></div>
<div class="fade" style="left:70px;top:2374px;width:3148px;height:34px;background:linear-gradient(180deg,rgba(216,216,216,0),rgba(216,216,216,.35) 50%,#d8d8d8)"></div>
</div>
</div></body></html>
